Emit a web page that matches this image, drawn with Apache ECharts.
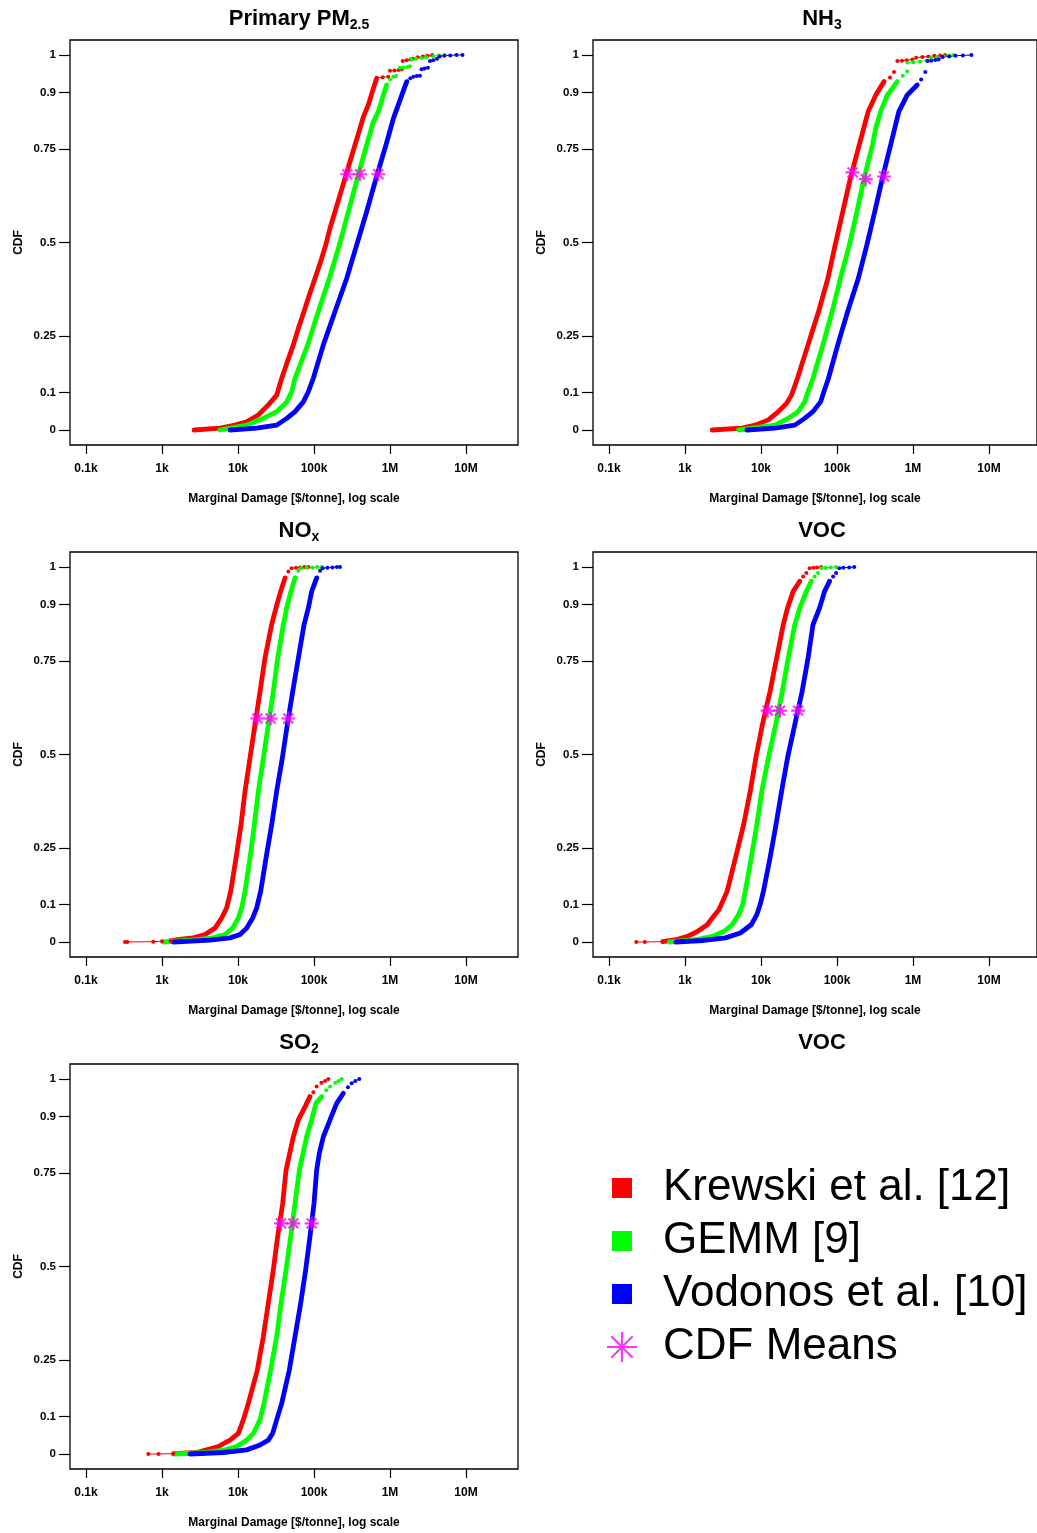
<!DOCTYPE html>
<html>
<head>
<meta charset="utf-8">
<title>Marginal damage CDFs</title>
<script src="https://cdn.jsdelivr.net/npm/echarts@6/dist/echarts.min.js"></script>
<style>
  html, body { margin: 0; padding: 0; background: #fff; }
  #chart { width: 1037px; height: 1533px; }
</style>
</head>
<body>
<div id="chart"></div>
<script>
// CDFs of marginal damage [$/tonne] per pollutant, one curve per C-R function
// points are [damage, cdf]. "Tail" = sparse dots at the ends
var models = ['Krewski et al. [12]', 'GEMM [9]', 'Vodonos et al. [10]'];
var colors = ['#ff0000', '#00ff00', '#0000ff'];
var meanName = 'CDF Means';
var xTickLabels = ['0.1k', '1k', '10k', '100k', '1M', '10M'];
var yTicks = [0, 0.1, 0.25, 0.5, 0.75, 0.9, 1];

// Primary PM2.5
var pm25Krewski = [[2640,0],[5800,0.005],[9140,0.013],[13000,0.022],[18500,0.04],[25100,0.067],[32300,0.093],[37600,0.138],[44600,0.182],[53500,0.227],[62200,0.271],[73900,0.316],[86800,0.36],[103000,0.404],[122400,0.449],[142500,0.493],[162400,0.538],[189000,0.582],[220000,0.627],[255700,0.671],[297800,0.716],[346000,0.76],[403000,0.804],[446000,0.835],[519000,0.867],[604000,0.911],[668000,0.938]];
var pm25KrewskiTail = [[668000,0.938],[800000,0.941],[950000,0.942],[1000000,0.958],[1150000,0.959],[1300000,0.96],[1430000,0.962],[1470000,0.984],[1650000,0.986],[1850000,0.988],[2000000,0.99],[2300000,0.994],[2700000,0.996],[3100000,0.998],[3600000,1]];
var pm25Gemm = [[5800,0],[13000,0.013],[21500,0.031],[32300,0.049],[43800,0.075],[50900,0.102],[56300,0.138],[82600,0.227],[114000,0.316],[159000,0.404],[215500,0.493],[283000,0.582],[372000,0.671],[493000,0.76],[604000,0.822],[702000,0.849],[817000,0.893],[904000,0.92]];
var pm25GemmTail = [[904000,0.92],[1000000,0.935],[1110000,0.942],[1200000,0.944],[1350000,0.966],[1500000,0.967],[1700000,0.968],[1830000,0.97],[1900000,0.988],[2200000,0.99],[2600000,0.992],[3000000,0.994],[3700000,0.997],[4400000,0.999],[5200000,1]];
var pm25Vodonos = [[7850,0],[17600,0.005],[32300,0.013],[43800,0.031],[56300,0.049],[72400,0.075],[84200,0.102],[98000,0.138],[132700,0.227],[189000,0.316],[269000,0.404],[364000,0.493],[493000,0.582],[655000,0.671],[885000,0.76],[1110000,0.831],[1430000,0.893],[1660000,0.929]];
var pm25VodonosTail = [[1660000,0.929],[1850000,0.938],[2030000,0.942],[2250000,0.944],[2480000,0.945],[2600000,0.962],[2850000,0.964],[3160000,0.966],[3360000,0.984],[3700000,0.986],[4150000,0.99],[4500000,0.996],[5200000,0.998],[6200000,0.999],[7500000,1],[9000000,1]];
var pm25Means = [[274000,0.682],[403000,0.682],[702000,0.682]];

// NH3
var nh3Krewski = [[2355,0],[5850,0.005],[8770,0.013],[13100,0.027],[17800,0.049],[22900,0.071],[26600,0.093],[31900,0.138],[44100,0.227],[60900,0.316],[80900,0.404],[101000,0.493],[127400,0.582],[160700,0.671],[210900,0.76],[277000,0.849],[349000,0.893],[450000,0.929]];
var nh3KrewskiTail = [[450000,0.929],[540000,0.94],[610000,0.955],[676000,0.984],[780000,0.985],[900000,0.986],[1070000,0.988],[1200000,0.993],[1450000,0.995],[1750000,0.996],[2100000,0.998],[2500000,0.999],[2900000,1]];
var nh3Gemm = [[5280,0],[16100,0.013],[24000,0.031],[32600,0.049],[39800,0.075],[44100,0.102],[51300,0.138],[69500,0.227],[92200,0.316],[118600,0.404],[155900,0.493],[196500,0.582],[245000,0.671],[316000,0.76],[349000,0.804],[406000,0.849],[498000,0.893],[674000,0.929]];
var nh3GemmTail = [[674000,0.929],[800000,0.945],[912000,0.957],[920000,0.98],[1100000,0.981],[1350000,0.983],[1670000,0.985],[1900000,0.993],[2300000,0.995],[2800000,0.997],[3300000,0.999],[3760000,1]];
var nh3Vodonos = [[6800,0],[16100,0.005],[29400,0.013],[39800,0.031],[51300,0.049],[64700,0.075],[71600,0.102],[82400,0.138],[109400,0.227],[148200,0.316],[204800,0.404],[266100,0.493],[338800,0.582],[427600,0.671],[550500,0.76],[708000,0.849],[912000,0.893],[1240000,0.92]];
var nh3VodonosTail = [[1240000,0.92],[1400000,0.935],[1590000,0.955],[1700000,0.984],[1900000,0.985],[2150000,0.987],[2380000,0.988],[2700000,0.995],[3300000,0.996],[4000000,0.998],[5000000,0.999],[6500000,1]];
var nh3Means = [[172000,0.687],[258000,0.669],[450000,0.676]];

// NOx
var noxKrewski = [[1300,0.003],[1560,0.006],[2580,0.011],[3680,0.02],[4980,0.037],[6090,0.064],[7100,0.091],[8010,0.135],[9420,0.224],[10960,0.313],[12370,0.402],[14390,0.491],[16750,0.58],[19500,0.668],[22650,0.757],[27700,0.846],[31600,0.891],[36400,0.935],[41600,0.971]];
var noxKrewskiTail = [[326,0],[350,0],[769,0.001],[1000,0.002],[1300,0.003],[41600,0.971],[46000,0.988],[50800,0.997],[58000,0.998],[66000,0.999],[75000,1],[84300,1]];
var noxGemm = [[1040,0],[2860,0.006],[4740,0.011],[6750,0.02],[8510,0.037],[10100,0.064],[11170,0.091],[12370,0.135],[14390,0.224],[16410,0.313],[18530,0.402],[21580,0.491],[25080,0.58],[29180,0.668],[33280,0.757],[39500,0.846],[43750,0.891],[49870,0.935],[56250,0.971]];
var noxGemmTail = [[56250,0.971],[62200,0.99],[68000,0.997],[80000,0.998],[95000,0.999],[110000,1],[126200,1]];
var noxVodonos = [[1410,0],[4290,0.005],[7860,0.011],[10640,0.02],[13000,0.037],[15600,0.064],[17620,0.091],[19880,0.135],[23380,0.224],[27740,0.313],[32280,0.402],[38340,0.491],[44600,0.58],[52460,0.668],[62230,0.757],[73940,0.846],[84330,0.891],[93300,0.935],[108500,0.971]];
var noxVodonosTail = [[108500,0.971],[120000,0.99],[130000,0.997],[150000,0.998],[175000,0.999],[200000,1],[220000,1]];
var noxMeans = [[18000,0.596],[26900,0.596],[45900,0.596]];

// VOC
var vocKrewski = [[519,0.001],[776,0.006],[1107,0.015],[1497,0.028],[2027,0.046],[2360,0.064],[2890,0.086],[3715,0.135],[4790,0.224],[6160,0.313],[7540,0.402],[8940,0.491],[10940,0.58],[13800,0.668],[16890,0.757],[20670,0.846],[23580,0.891],[28000,0.935],[34270,0.962]];
var vocKrewskiTail = [[231,0],[300,0],[519,0.001],[34270,0.962],[38000,0.975],[41900,0.984],[46300,0.997],[52000,0.998],[58000,0.999],[66000,1]];
var vocGemm = [[634,0],[1420,0.006],[2360,0.015],[3360,0.028],[4320,0.046],[5290,0.073],[5970,0.1],[6470,0.135],[7770,0.224],[9220,0.313],[10720,0.402],[13120,0.491],[16400,0.58],[20060,0.668],[24060,0.757],[29440,0.846],[34270,0.891],[41900,0.935],[48700,0.962]];
var vocGemmTail = [[48700,0.962],[54000,0.975],[59700,0.984],[66000,0.997],[75000,0.998],[88000,0.999],[104000,1]];
var vocVodonos = [[776,0],[1740,0.004],[3530,0.011],[5560,0.024],[7760,0.046],[9220,0.073],[10200,0.1],[11280,0.135],[13800,0.224],[16560,0.313],[19660,0.402],[23560,0.491],[29440,0.58],[36800,0.668],[44100,0.757],[51300,0.846],[62800,0.891],[73100,0.935],[85100,0.962]];
var vocVodonosTail = [[85100,0.962],[95000,0.975],[104000,0.984],[115000,0.997],[130000,0.998],[155000,0.999],[181000,1]];
var vocMeans = [[12850,0.617],[18700,0.617],[32600,0.617]];

// SO2
var so2Krewski = [[1410,0.001],[2860,0.004],[3870,0.011],[5510,0.02],[7850,0.037],[10100,0.055],[11750,0.091],[13680,0.135],[17960,0.224],[21530,0.313],[25050,0.402],[29150,0.491],[33250,0.58],[38700,0.668],[42850,0.757],[53500,0.846],[62200,0.891],[72400,0.917],[88500,0.953]];
var so2KrewskiTail = [[661,0],[900,0],[1410,0.001],[88500,0.953],[98000,0.965],[108300,0.98],[125000,0.99],[140000,0.995],[154300,1]];
var so2Gemm = [[1410,0],[3870,0.004],[6750,0.011],[9610,0.02],[13000,0.037],[15920,0.055],[19480,0.091],[21980,0.135],[26900,0.224],[32280,0.313],[36810,0.402],[42860,0.491],[49330,0.58],[56250,0.668],[64150,0.757],[80040,0.846],[93150,0.891],[106200,0.935],[126100,0.953]];
var so2GemmTail = [[126100,0.953],[145000,0.97],[162400,0.98],[190000,0.99],[210000,0.995],[231400,1]];
var so2Vodonos = [[2330,0],[6410,0.004],[13000,0.011],[19480,0.024],[25050,0.037],[28580,0.055],[32280,0.091],[37580,0.135],[47350,0.224],[56250,0.313],[66800,0.402],[77700,0.491],[88500,0.58],[100000,0.668],[108400,0.757],[117500,0.802],[132700,0.846],[162400,0.891],[198700,0.935],[243100,0.962]];
var so2VodonosTail = [[243100,0.962],[280000,0.978],[313100,0.989],[350000,0.995],[394500,1]];
var so2Means = [[36800,0.615],[53500,0.615],[93100,0.615]];

var panels = [
    { title: 'Primary PM{s|2.5}', row: 0, col: 0, means: pm25Means,
      curves: [[pm25Krewski, pm25KrewskiTail], [pm25Gemm, pm25GemmTail], [pm25Vodonos, pm25VodonosTail]] },
    { title: 'NH{s|3}', row: 0, col: 1, means: nh3Means,
      curves: [[nh3Krewski, nh3KrewskiTail], [nh3Gemm, nh3GemmTail], [nh3Vodonos, nh3VodonosTail]] },
    { title: 'NO{s|x}', row: 1, col: 0, means: noxMeans,
      curves: [[noxKrewski, noxKrewskiTail], [noxGemm, noxGemmTail], [noxVodonos, noxVodonosTail]] },
    { title: 'VOC', row: 1, col: 1, means: vocMeans,
      curves: [[vocKrewski, vocKrewskiTail], [vocGemm, vocGemmTail], [vocVodonos, vocVodonosTail]] },
    { title: 'SO{s|2}', row: 2, col: 0, means: so2Means,
      curves: [[so2Krewski, so2KrewskiTail], [so2Gemm, so2GemmTail], [so2Vodonos, so2VodonosTail]] }
];

// layout (px)
var boxLefts = [70, 593];
var boxTops = [40, 552, 1064];
var boxW = 448, boxH = 405;
var padX = 16, padY = 15;     // R-style gap between box and first/last tick
var axisW = 380, axisH = 375; // 0.1k..10M and 0..1
var decade = axisW / 5;
var xMin = 100 / Math.pow(10, padX / decade);
var xMax = 1e7 * Math.pow(10, (boxW - padX - axisW) / decade);
var yMin = -padY / axisH, yMax = 1 + padY / axisH;

var font = 'Liberation Sans, Arial, Helvetica, sans-serif';
// asterisk (pch 8) as filled thin bars, 20x20 box
function asterisk(w) {
    var a = 10 - w / 2, b = 10 + w / 2, d = w * 0.3536, p = 2.9, q = 17.1;
    return 'path://M' + a + ',0L' + b + ',0L' + b + ',20L' + a + ',20Z' +
        'M0,' + a + 'L20,' + a + 'L20,' + b + 'L0,' + b + 'Z' +
        'M' + (p - d) + ',' + (p + d) + 'L' + (p + d) + ',' + (p - d) + 'L' + (q + d) + ',' + (q - d) + 'L' + (q - d) + ',' + (q + d) + 'Z' +
        'M' + (q - d) + ',' + (p - d) + 'L' + (q + d) + ',' + (p + d) + 'L' + (p + d) + ',' + (q + d) + 'L' + (p - d) + ',' + (q - d) + 'Z';
}
var squareIcon = 'path://M0,0M30,30M5,5L25,5L25,25L5,25Z';

// break the thin tail line where the cdf jumps (step plot without verticals)
function withBreaks(points) {
    var out = [];
    for (var i = 0; i < points.length; i++) {
        if (i > 0 && points[i][1] - points[i - 1][1] > 0.008) out.push([points[i - 1][0], '-']);
        out.push(points[i]);
    }
    return out;
}

var grids = [], xAxes = [], yAxes = [], series = [], titles = [];
var boldLabel = { color: '#000', fontWeight: 'bold', fontSize: 12, fontFamily: font };

function addTitle(text, row, col) {
    titles.push({
        text: text,
        left: boxLefts[col] + boxW / 2,
        top: boxTops[row] - 39,
        textAlign: 'center',
        textStyle: {
            fontSize: 22, fontWeight: 'bold', color: '#000', fontFamily: font, lineHeight: 26,
            rich: { s: { fontSize: 14, fontWeight: 'bold', color: '#000', fontFamily: font, verticalAlign: 'bottom', lineHeight: 14 } }
        }
    });
}

panels.forEach(function (p, i) {
    var left = boxLefts[p.col], top = boxTops[p.row];
    var g = i * 2;
    // data grid = the framed box
    grids.push({ left: left, top: top, width: boxW, height: boxH, show: true, borderColor: '#000', borderWidth: 1.3, backgroundColor: 'transparent' });
    // tick grid: x spans 0.1k..10M only, y spans the whole box
    grids.push({ left: left + padX, top: top, width: axisW, height: boxH, show: false });

    xAxes.push({
        type: 'log', logBase: 10, gridIndex: g, min: xMin, max: xMax,
        axisLine: { show: false, onZero: false }, axisTick: { show: false }, axisLabel: { show: false }, splitLine: { show: false },
        name: 'Marginal Damage [$/tonne], log scale', nameLocation: 'middle', nameGap: 48, nameTextStyle: boldLabel
    });
    xAxes.push({
        type: 'log', logBase: 10, gridIndex: g + 1, min: 100, max: 1e7, position: 'bottom',
        axisLine: { show: false, onZero: false },
        axisTick: { show: true, length: 9, lineStyle: { color: '#000', width: 1.2 } },
        axisLabel: {
            margin: 18, color: '#000', fontWeight: 'bold', fontSize: 12, fontFamily: font,
            formatter: function (v) { return xTickLabels[Math.round(Math.log10(v)) - 2]; }
        },
        splitLine: { show: false }
    });
    yAxes.push({
        type: 'value', gridIndex: g, min: yMin, max: yMax,
        axisLine: { show: false, onZero: false }, axisTick: { show: false }, axisLabel: { show: false }, splitLine: { show: false },
        name: 'CDF', nameLocation: 'middle', nameGap: 45, nameRotate: 90, nameTextStyle: boldLabel
    });
    yAxes.push({
        type: 'value', gridIndex: g + 1, min: yMin, max: yMax, offset: padX, position: 'left',
        axisLine: { show: false, onZero: false },
        axisTick: { show: true, length: 11, customValues: yTicks, lineStyle: { color: '#000', width: 1.2 } },
        axisLabel: { margin: 14, customValues: yTicks, color: '#000', fontWeight: 'bold', fontSize: 11.5, fontFamily: font },
        splitLine: { show: false }
    });

    p.curves.forEach(function (c, k) {
        series.push({
            name: models[k], type: 'line', xAxisIndex: g, yAxisIndex: g,
            data: c[0], showSymbol: false, symbol: 'none',
            lineStyle: { color: colors[k], width: 4.8, cap: 'round', join: 'round' },
            itemStyle: { color: colors[k] }, z: 2
        });
        series.push({
            name: models[k], type: 'line', xAxisIndex: g, yAxisIndex: g,
            data: withBreaks(c[1]), showSymbol: true, showAllSymbol: true,
            symbol: 'circle', symbolSize: 4, connectNulls: false,
            lineStyle: { color: colors[k], width: 1 },
            itemStyle: { color: colors[k] }, z: 2
        });
    });
    series.push({
        name: meanName, type: 'scatter', xAxisIndex: g, yAxisIndex: g,
        data: p.means, symbol: asterisk(3), symbolSize: 14,
        itemStyle: { color: '#ff00ff' }, z: 5
    });
    addTitle(p.title, p.row, p.col);
});
addTitle('VOC', 2, 1);

var chart = echarts.init(document.getElementById('chart'), null, { renderer: 'canvas' });
chart.setOption({
    animation: false,
    backgroundColor: '#fff',
    textStyle: { fontFamily: font },
    title: titles,
    grid: grids,
    xAxis: xAxes,
    yAxis: yAxes,
    legend: {
        orient: 'vertical', left: 602, top: 1161,
        itemWidth: 30, itemHeight: 30, itemGap: 9,
        selectedMode: false,
        textStyle: { fontSize: 44, lineHeight: 44, color: '#000', fontFamily: font, padding: [0, 0, 0, 21] },
        data: [
            { name: models[0], icon: squareIcon, itemStyle: { color: colors[0] } },
            { name: models[1], icon: squareIcon, itemStyle: { color: colors[1] } },
            { name: models[2], icon: squareIcon, itemStyle: { color: colors[2] } },
            { name: meanName, icon: asterisk(1.4), itemStyle: { color: '#ff00ff' } }
        ]
    },
    series: series
});
</script>
</body>
</html>
